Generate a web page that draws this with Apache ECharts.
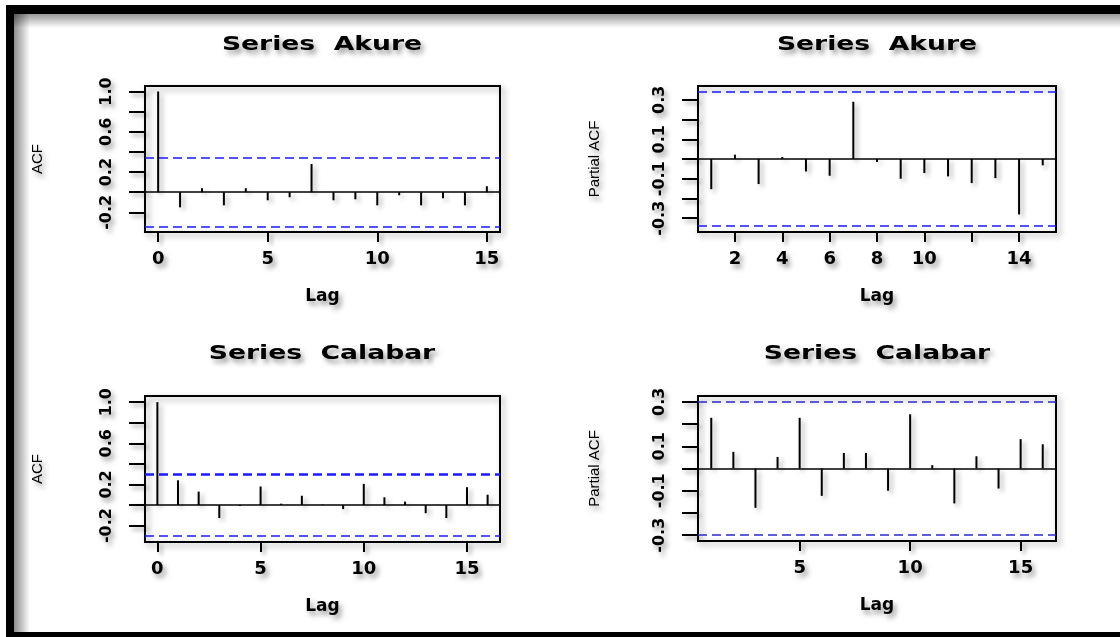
<!DOCTYPE html>
<html>
<head>
<meta charset="utf-8">
<script src="https://cdn.jsdelivr.net/npm/echarts@6/dist/echarts.min.js"></script>
<style>
html, body { margin: 0; padding: 0; background: #fff; }
#chart { width: 1120px; height: 637px; }
</style>
</head>
<body>
<div id="chart"></div>
<script>
// lags
var acfLagsAkure = [0, 1, 2, 3, 4, 5, 6, 7, 8, 9, 10, 11, 12, 13, 14, 15];
var pacfLagsAkure = [1, 2, 3, 4, 5, 6, 7, 8, 9, 10, 11, 12, 13, 14, 15];
var acfLagsCalabar = [0, 1, 2, 3, 4, 5, 6, 7, 8, 9, 10, 11, 12, 13, 14, 15, 16];
var pacfLagsCalabar = [1, 2, 3, 4, 5, 6, 7, 8, 9, 10, 11, 12, 13, 14, 15, 16];

// values
var acfAkure = [1.0, -0.15, 0.04, -0.13, 0.04, -0.08, -0.05, 0.28, -0.08, -0.07, -0.13, -0.03, -0.13, -0.06, -0.13, 0.06];
var pacfAkure = [-0.153, 0.022, -0.127, 0.01, -0.063, -0.085, 0.29, -0.015, -0.10, -0.071, -0.088, -0.122, -0.097, -0.281, -0.032];
var acfCalabar = [1.0, 0.24, 0.13, -0.127, -0.01, 0.18, 0.013, 0.09, 0.005, -0.04, 0.205, 0.075, 0.033, -0.08, -0.127, 0.173, 0.10];
var pacfCalabar = [0.228, 0.075, -0.177, 0.052, 0.228, -0.123, 0.07, 0.07, -0.10, 0.244, 0.015, -0.157, 0.055, -0.09, 0.132, 0.109];

// confidence bounds
var ciAkure = 0.34;
var ciCalabar = 0.30;

// tick / label values
var acfTicksY = [-0.2, 0, 0.2, 0.4, 0.6, 0.8, 1.0];
var acfLabelsY = [-0.2, 0.2, 0.6, 1.0];
var pacfTicksY = [-0.3, -0.2, -0.1, 0, 0.1, 0.2, 0.3];
var pacfLabelsY = [-0.3, -0.1, 0.1, 0.3];
var ticksX1 = [0, 5, 10, 15];
var ticksX2 = [2, 4, 6, 8, 10, 12, 14];
var labelsX2 = [2, 4, 6, 8, 10, 14];
var ticksX3 = [0, 5, 10, 15];
var ticksX4 = [5, 10, 15];

var titles = ['Series  Akure', 'Series  Akure', 'Series  Calabar', 'Series  Calabar'];

var shadowCol = 'rgba(0,0,0,0.38)';
var textShadow = { textShadowColor: shadowCol, textShadowBlur: 5, textShadowOffsetX: 3, textShadowOffsetY: 4 };

var myChart = echarts.init(document.getElementById('chart'));

function pairs(lags, vals) {
	var out = [];
	for (var i = 0; i < vals.length; i++) {
		out.push([lags[i], vals[i]]);
	}
	return out;
}

function spike(params, api) {
	var p0 = api.coord([api.value(0), 0]);
	var p1 = api.coord([api.value(0), api.value(1)]);
	return {
		type: 'line',
		shape: { x1: p0[0], y1: p0[1], x2: p1[0], y2: p1[1] },
		style: { stroke: '#000', lineWidth: 2, shadowBlur: 5, shadowColor: shadowCol, shadowOffsetX: 3, shadowOffsetY: 3 }
	};
}

function xAxisOf(idx, min, max, ticks, labels) {
	return {
		type: 'value', gridIndex: idx, min: min, max: max, position: 'bottom',
		name: 'Lag', nameLocation: 'middle', nameGap: 56,
		nameTextStyle: Object.assign({ fontFamily: 'DejaVu Sans', fontWeight: 'bold', fontSize: 17, color: '#000' }, textShadow),
		axisLine: { show: false, onZero: false },
		splitLine: { show: false },
		axisTick: { show: true, inside: false, length: 10, customValues: ticks,
			lineStyle: { color: '#000', width: 2, shadowBlur: 4, shadowColor: shadowCol, shadowOffsetX: 3, shadowOffsetY: 3 } },
		axisLabel: Object.assign({ margin: 18, customValues: labels,
			fontFamily: 'DejaVu Sans', fontWeight: 'bold', fontSize: 18, color: '#000' }, textShadow)
	};
}

function yAxisOf(idx, min, max, ticks, labels, name, gap) {
	return {
		type: 'value', gridIndex: idx, min: min, max: max, position: 'left',
		name: name, nameLocation: 'middle', nameGap: gap,
		nameTextStyle: Object.assign({ fontFamily: 'Liberation Sans', fontSize: 15, color: '#000' }, textShadow),
		axisLine: { show: false, onZero: false },
		splitLine: { show: false },
		axisTick: { show: true, inside: false, length: 16, customValues: ticks,
			lineStyle: { color: '#000', width: 2, shadowBlur: 4, shadowColor: shadowCol, shadowOffsetX: 3, shadowOffsetY: 3 } },
		axisLabel: Object.assign({ margin: 30, rotate: 90, customValues: labels,
			fontFamily: 'DejaVu Sans', fontWeight: 'bold', fontSize: 16, color: '#000',
			formatter: function (v) { return v.toFixed(1); } }, textShadow)
	};
}

function refLines(ci, ciColor, ciWidth) {
	return {
		silent: true, symbol: ['none', 'none'], animation: false,
		label: { show: false },
		data: [
			{ yAxis: 0, lineStyle: { color: '#000', width: 1.5, type: 'solid' } },
			{ yAxis: ci, lineStyle: { color: ciColor, width: ciWidth, type: [9, 5] } },
			{ yAxis: -ci, lineStyle: { color: ciColor, width: 1.5, type: [9, 5] } }
		]
	};
}

var gridBase = { show: true, borderColor: '#000', borderWidth: 2, backgroundColor: 'transparent',
	shadowBlur: 6, shadowColor: shadowCol, shadowOffsetX: 3, shadowOffsetY: 3 };

var titlePos = [[322, 45], [877, 45], [322, 354], [877, 354]];
var graphics = [
	// frame
	{ type: 'rect', shape: { x: 6, y: 5, width: 1114, height: 9 }, style: { fill: '#000' } },
	{ type: 'rect', shape: { x: 6, y: 5, width: 8, height: 632 }, style: { fill: '#000' } },
	{ type: 'rect', shape: { x: 6, y: 632, width: 1114, height: 5 }, style: { fill: '#000' } },
	{ type: 'rect', shape: { x: 14, y: 14, width: 16, height: 618 },
		style: { fill: new echarts.graphic.LinearGradient(0, 0, 1, 0, [{ offset: 0, color: 'rgba(0,0,0,0.45)' }, { offset: 1, color: 'rgba(0,0,0,0)' }]) } },
	{ type: 'rect', shape: { x: 14, y: 14, width: 1106, height: 14 },
		style: { fill: new echarts.graphic.LinearGradient(0, 0, 0, 1, [{ offset: 0, color: 'rgba(0,0,0,0.4)' }, { offset: 1, color: 'rgba(0,0,0,0)' }]) } }
];
for (var t = 0; t < titles.length; t++) {
	graphics.push({
		type: 'text', x: titlePos[t][0], y: titlePos[t][1], scaleX: 1.4,
		style: Object.assign({ text: titles[t], x: 0, y: 0, textAlign: 'center', textVerticalAlign: 'middle',
			font: 'bold 19px "DejaVu Sans"', fill: '#000' }, textShadow)
	});
}

var option = {
	animation: false,
	backgroundColor: '#fff',
	grid: [
		Object.assign({ left: 145, top: 86, width: 355, height: 146 }, gridBase),
		Object.assign({ left: 698, top: 86, width: 358, height: 146 }, gridBase),
		Object.assign({ left: 145, top: 396, width: 355, height: 146 }, gridBase),
		Object.assign({ left: 698, top: 396, width: 358, height: 145 }, gridBase)
	],
	xAxis: [
		xAxisOf(0, -0.6, 15.6, ticksX1, ticksX1),
		xAxisOf(1, 0.44, 15.56, ticksX2, labelsX2),
		xAxisOf(2, -0.6, 16.6, ticksX3, ticksX3),
		xAxisOf(3, 0.4, 16.6, ticksX4, ticksX4)
	],
	yAxis: [
		yAxisOf(0, -0.395, 1.055, acfTicksY, acfLabelsY, 'ACF', 100),
		yAxisOf(1, -0.37, 0.37, pacfTicksY, pacfLabelsY, 'Partial ACF', 96),
		yAxisOf(2, -0.36, 1.06, acfTicksY, acfLabelsY, 'ACF', 100),
		yAxisOf(3, -0.326, 0.326, pacfTicksY, pacfLabelsY, 'Partial ACF', 96)
	],
	graphic: graphics,
	series: [
		{ type: 'custom', xAxisIndex: 0, yAxisIndex: 0, renderItem: spike, data: pairs(acfLagsAkure, acfAkure),
			markLine: refLines(ciAkure, '#1a1aff', 1.5) },
		{ type: 'custom', xAxisIndex: 1, yAxisIndex: 1, renderItem: spike, data: pairs(pacfLagsAkure, pacfAkure),
			markLine: refLines(ciAkure, '#1a1aff', 1.5) },
		{ type: 'custom', xAxisIndex: 2, yAxisIndex: 2, renderItem: spike, data: pairs(acfLagsCalabar, acfCalabar),
			markLine: refLines(ciCalabar, '#1a1aff', 2.5) },
		{ type: 'custom', xAxisIndex: 3, yAxisIndex: 3, renderItem: spike, data: pairs(pacfLagsCalabar, pacfCalabar),
			markLine: refLines(ciCalabar, '#2a2acc', 1.5) }
	]
};
myChart.setOption(option);
</script>
</body>
</html>
